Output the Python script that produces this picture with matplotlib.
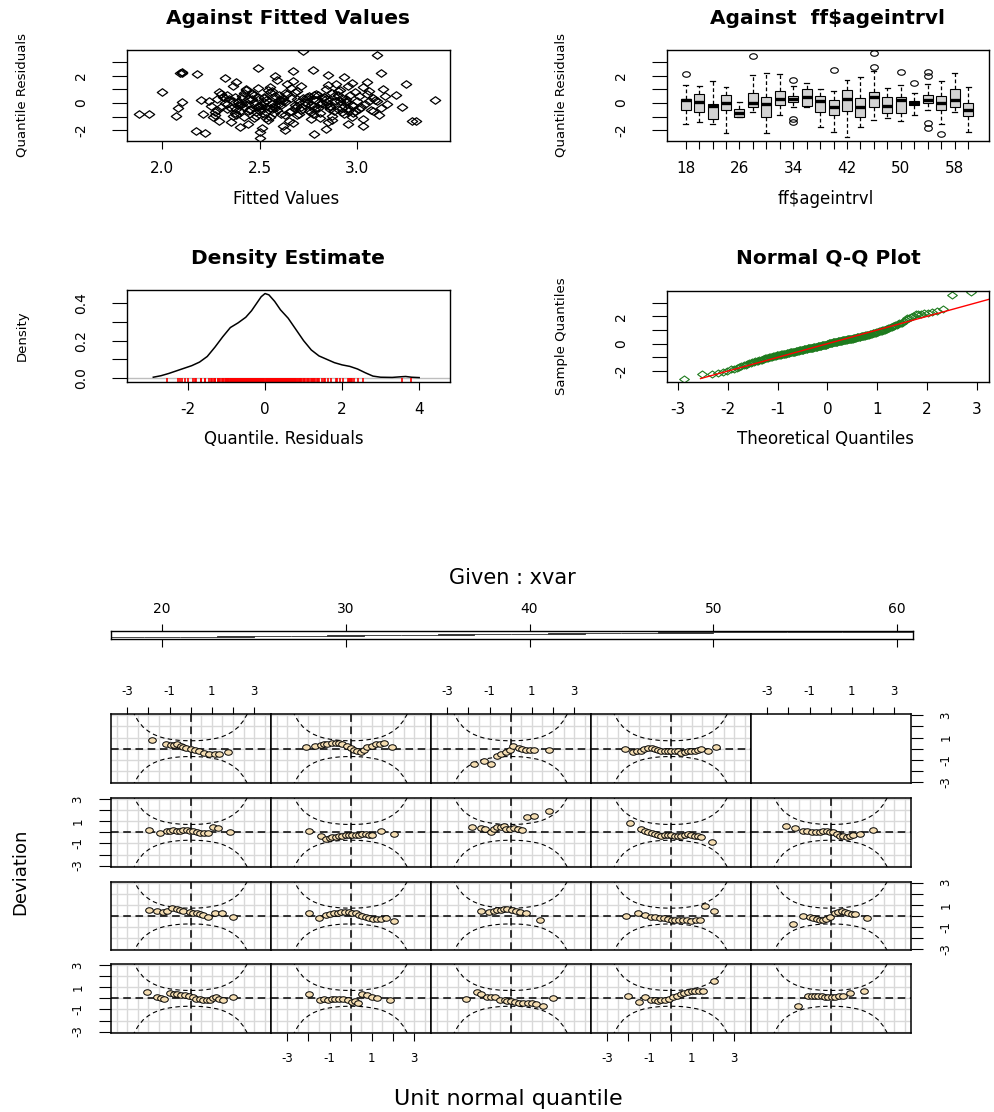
"""GAMLSS style residual diagnostics plus a worm plot, redrawn with matplotlib."""
from statistics import NormalDist

import matplotlib
matplotlib.use("Agg")
import matplotlib.pyplot as plt
from matplotlib.patches import Rectangle
from matplotlib.path import Path
from matplotlib.transforms import Affine2D

W, H = 995, 1112

# ---- residuals against fitted values ----
fitted_vals = [
    2.31, 2.55, 2.88, 2.47, 2.63, 2.95, 2.39, 2.71, 2.52, 2.84,
    2.27, 2.58, 2.91, 2.44, 2.67, 3.02, 2.36, 2.75, 2.49, 2.81,
    2.60, 2.33, 2.97, 2.53, 2.78, 2.42, 3.08, 2.65, 2.89, 2.29,
    2.56, 2.74, 2.45, 2.93, 2.38, 2.69, 3.05, 2.51, 2.83, 2.62,
    2.24, 2.48, 2.86, 2.59, 2.77, 2.41, 3.11, 2.66, 2.99, 2.35,
    2.54, 2.80, 2.46, 2.92, 2.28, 2.70, 3.03, 2.57, 2.85, 2.43,
    2.61, 2.37, 2.94, 2.50, 2.73, 3.14, 2.32, 2.87, 2.64, 2.45,
    2.79, 2.52, 2.98, 2.26, 2.68, 2.90, 2.40, 3.07, 2.58, 2.82,
    2.34, 2.63, 2.96, 2.49, 2.76, 2.30, 3.00, 2.55, 2.88, 2.44,
    2.72, 2.50, 2.84, 2.39, 2.93, 2.61, 3.09, 2.46, 2.80, 2.67,
    2.25, 2.57, 2.91, 2.42, 2.74, 3.04, 2.36, 2.69, 2.53, 2.87,
    2.48, 2.78, 2.33, 2.95, 2.60, 2.41, 3.12, 2.65, 2.89, 2.54,
    2.29, 2.71, 2.97, 2.51, 2.83, 2.38, 3.06, 2.62, 2.45, 2.76,
    2.56, 2.92, 2.35, 2.68, 2.49, 2.81, 3.01, 2.43, 2.73, 2.59,
    2.27, 2.64, 2.86, 2.52, 2.97, 2.40, 2.79, 3.15, 2.55, 2.90,
    2.47, 2.70, 2.32, 2.84, 2.58, 3.03, 2.37, 2.66, 2.94, 2.50,
    2.76, 2.42, 2.99, 2.61, 2.28, 2.85, 2.53, 3.10, 2.69, 2.44,
    2.10, 2.10, 2.09, 2.18, 2.49, 2.67, 2.77, 2.85, 3.12, 2.72,
    3.10, 3.05, 3.25, 3.40, 1.88, 1.93, 2.00, 2.08, 2.07, 2.10,
    2.20, 2.21, 2.17, 2.22, 2.40, 2.50, 2.50, 2.78, 2.84, 3.28,
    2.32, 2.58, 2.93, 3.13, 3.20, 3.23, 3.30, 2.95, 2.63, 3.03,
    2.36, 2.44, 2.52, 2.58, 2.63, 2.71, 2.78, 2.86, 2.92, 2.98,
    2.33, 2.41, 2.49, 2.55, 2.66, 2.74, 2.81, 2.88, 2.95, 3.06,
    2.30, 2.39, 2.47, 2.56, 2.62, 2.69, 2.77, 2.84, 2.90, 3.01,
    2.38, 2.46, 2.53, 2.60, 2.68, 2.75, 2.82, 2.87, 2.94, 3.08,
]
quant_resid = [
    0.42, -0.37, 0.15, -1.12, 0.71, -0.58, 0.08, 1.24, -0.81, -0.12,
    -0.65, 0.33, 0.92, 0.27, -1.45, -0.31, -0.92, 0.54, 1.08, -0.74,
    -0.05, 0.61, -1.02, 0.19, -0.46, -0.28, 0.37, -0.69, 1.36, -1.31,
    0.88, 0.02, -0.54, -0.21, 1.52, -0.88, 0.64, -0.16, 0.45, -1.67,
    0.12, -0.95, -0.43, 1.71, 0.28, -0.07, -0.85, 0.39, 0.81, -0.33,
    -1.23, 0.56, 0.74, -0.64, -0.48, 0.05, 1.15, -0.26, -1.38, 0.97,
    0.22, -0.76, 0.31, -0.59, -0.14, 0.48, 0.35, -0.97, 1.41, -0.42,
    0.67, 0.10, -0.24, -1.05, -0.36, 0.86, -0.18, -0.52, 0.51, -0.03,
    0.26, -0.91, 0.59, 0.43, -1.19, -0.27, 0.14, 1.18, -0.61, -1.56,
    0.34, -0.45, 1.02, 0.06, -0.83, -0.11, 0.25, 0.69, -0.39, 1.63,
    -0.21, -0.72, 0.18, -0.99, 0.47, -0.08, 1.27, 0.32, -0.31, 0.76,
    -0.63, -0.23, -0.10, 1.22, 0.58, 0.37, -0.40, -1.29, 0.12, 0.93,
    0.78, -0.53, -0.17, -1.82, 0.41, -0.44, 0.91, 0.13, 0.24, -0.66,
    -0.09, -0.35, -1.41, 0.83, -0.19, -1.08, 0.52, 1.04, 0.09, -0.50,
    -0.88, 0.63, -0.29, 0.36, 1.48, -0.60, 0.20, -0.07, -1.01, -0.46,
    0.55, -0.77, -0.02, 0.29, -0.35, -1.16, 0.46, 1.11, 0.04, -0.25,
    -0.13, 0.73, -0.55, -0.84, 0.30, 1.29, -0.68, 0.16, -0.20, -0.04,
    2.25, 2.18, 2.22, 2.15, 2.55, 2.32, 2.42, 2.03, 2.21, 3.78,
    3.55, 1.55, 1.37, 0.20, -0.78, -0.78, 0.78, -0.35, -0.95, 0.10,
    0.20, -0.83, -2.08, -2.20, -1.78, -2.55, -2.15, -2.25, -1.87, -1.33,
    1.85, 1.95, 1.88, 1.00, 0.60, -0.30, -1.30, -1.55, -2.00, -1.65,
    0.18, -0.62, 0.44, -0.15, 0.05, -0.32, 0.61, -0.22, 0.35, -0.71,
    -0.41, 0.52, -0.28, 0.79, -0.55, 0.27, -0.09, 0.49, -0.36, 0.11,
    0.65, -0.18, 0.03, -0.47, 0.38, 0.91, -0.78, 0.07, 0.58, -0.44,
    -0.86, 0.29, -1.09, 0.21, -0.13, -0.57, 0.33, -1.22, 0.17, -0.60,
]

# ---- boxplots of residuals by age interval ----
age_groups = [18, 20, 22, 24, 26, 28, 30, 32, 34, 36, 38,
              40, 42, 44, 46, 48, 50, 52, 54, 56, 58, 60]
box_whislo = [-1.54, -1.41, -1.54, -2.20, -1.05, -0.66, -2.20, -0.88, -0.32, -0.32, -1.73,
              -2.12, -2.46, -1.78, -1.24, -1.07, -1.29, -0.88, -0.51, -1.54, -0.63, -2.10]
box_q1 = [-0.51, -0.66, -1.15, -0.51, -1.05, -0.32, -1.00, -0.15, 0.10, -0.22, -0.63,
          -0.88, -0.56, -1.00, -0.27, -0.76, -0.76, -0.17, -0.02, -0.51, -0.27, -0.95]
box_med = [0.22, 0.10, -0.22, -0.02, -0.76, -0.02, -0.10, 0.27, 0.27, 0.46, 0.17,
           -0.32, 0.29, -0.27, 0.41, -0.22, 0.22, 0.02, 0.22, -0.02, 0.22, -0.51]
box_q3 = [0.29, 0.66, -0.10, 0.59, -0.44, 0.71, 0.41, 0.90, 0.54, 1.00, 0.51,
          0.22, 0.95, 0.34, 0.83, 0.46, 0.41, 0.17, 0.59, 0.51, 1.00, -0.02]
box_whishi = [1.32, 1.24, 1.63, 1.20, 0.07, 2.02, 2.17, 2.12, 1.24, 1.49, 1.00,
              0.88, 1.68, 1.93, 2.34, 1.10, 1.32, 0.71, 1.39, 1.63, 2.22, 1.20]
box_fliers = [[2.15], [], [], [], [], [3.46], [], [], [1.66, -1.15, -1.39], [], [],
              [2.41], [], [], [3.68, 2.63], [], [2.29], [1.44], [2.29, 1.98, -1.49, -1.80],
              [-2.29], [], []]

# ---- kernel density estimate of the residuals ----
dens_x = [-2.9, -2.7, -2.5, -2.3, -2.1, -1.9, -1.7, -1.5, -1.3, -1.1, -0.9, -0.7, -0.5,
          -0.35, -0.2, -0.1, 0.0, 0.1, 0.25, 0.4, 0.6, 0.8, 1.0, 1.2, 1.4, 1.6, 1.8,
          2.0, 2.2, 2.4, 2.6, 2.8, 3.0, 3.3, 3.5, 3.65, 3.8, 4.0]
dens_y = [0.004, 0.012, 0.024, 0.038, 0.052, 0.066, 0.085, 0.115, 0.165, 0.22, 0.27,
          0.295, 0.325, 0.36, 0.405, 0.435, 0.452, 0.445, 0.41, 0.365, 0.32, 0.26, 0.20,
          0.15, 0.118, 0.10, 0.082, 0.07, 0.062, 0.048, 0.028, 0.01, 0.004, 0.003,
          0.006, 0.008, 0.004, 0.002]

# ---- given panel: age intervals of the 19 worm panels ----
given_lo = [17, 19, 21, 23, 25, 27, 29, 31, 33, 35, 37, 39, 41, 43, 45, 47, 50, 54, 57]
given_hi = [19, 21, 23, 25, 27, 29, 31, 33, 35, 37, 39, 41, 43, 45, 47, 50, 54, 57, 61]
given_ticks = [20, 30, 40, 50, 60]

# ---- worm plot points, panel 1 (bottom left) .. panel 19 ----
worm_z = [
    [-2.05, -1.61, -1.4, -1.26, -0.98, -0.8, -0.63, -0.45, -0.27, -0.06, 0.1, 0.25, 0.42,
     0.6, 0.75, 0.92, 1.05, 1.2, 1.35, 1.52, 1.99],
    [-1.97, -1.45, -1.25, -1.06, -0.9, -0.74, -0.55, -0.35, -0.15, 0.05, 0.2, 0.36, 0.52,
     0.76, 1.0, 1.23, 1.86],
    [-2.12, -1.61, -1.4, -1.14, -0.95, -0.74, -0.51, -0.27, -0.19, 0.0, 0.21, 0.4, 0.6,
     0.8, 0.99, 1.2, 1.52, 1.99],
    [-2.02, -1.52, -1.23, -0.92, -0.75, -0.6, -0.45, -0.28, -0.1, 0.11, 0.3, 0.51, 0.65,
     0.82, 1.0, 1.14, 1.35, 1.53, 2.05],
    [-1.53, -1.06, -0.9, -0.74, -0.6, -0.43, -0.27, -0.11, 0.05, 0.21, 0.4, 0.6, 0.92, 1.55],
    [-1.97, -1.61, -1.3, -1.1, -0.9, -0.66, -0.5, -0.35, -0.03, 0.12, 0.28, 0.45, 0.6,
     0.84, 1.15, 1.47, 1.99],
    [-1.97, -1.5, -1.18, -0.98, -0.79, -0.6, -0.47, -0.25, -0.08, 0.08, 0.24, 0.4, 0.55,
     0.72, 0.87, 1.05, 1.26, 1.45, 1.66, 2.05],
    [-1.42, -1.03, -0.8, -0.63, -0.47, -0.32, -0.16, 0.05, 0.24, 0.45, 0.71, 1.39],
    [-2.1, -1.55, -1.23, -0.92, -0.72, -0.52, -0.3, -0.13, 0.05, 0.19, 0.4, 0.58, 0.78,
     0.98, 1.2, 1.37, 1.64, 2.05],
    [-1.8, -1.3, -0.98, -0.82, -0.66, -0.5, -0.35, -0.2, -0.03, 0.21, 0.36, 0.52, 0.68,
     0.84, 1.0, 1.15, 1.71],
    [-1.97, -1.45, -1.14, -0.98, -0.82, -0.66, -0.5, -0.35, -0.19, -0.03, 0.13, 0.3, 0.44,
     0.64, 0.84, 1.07, 1.31, 1.86],
    [-1.97, -1.42, -1.18, -1.0, -0.87, -0.7, -0.55, -0.4, -0.24, -0.08, 0.08, 0.24, 0.39,
     0.55, 0.71, 0.87, 1.03, 1.42, 2.05],
    [-1.83, -1.42, -1.2, -0.95, -0.8, -0.63, -0.47, -0.32, -0.24, -0.05, 0.16, 0.35, 0.55,
     0.79, 1.1, 1.82],
    [-1.94, -1.39, -1.2, -1.07, -0.9, -0.76, -0.6, -0.44, -0.28, -0.13, 0.03, 0.19, 0.35,
     0.51, 0.67, 0.82, 0.98, 1.14, 1.3, 1.45, 1.93],
    [-2.12, -1.69, -1.3, -1.1, -0.9, -0.7, -0.51, -0.35, -0.19, -0.03, 0.13, 0.29, 0.44,
     0.6, 0.76, 0.92, 1.07, 1.39, 1.99],
    [-1.82, -1.18, -0.95, -0.8, -0.66, -0.47, -0.35, -0.24, 0.0, 0.19, 0.39, 0.63, 0.87,
     1.14, 1.34, 1.74],
    [-2.09, -1.71, -1.42, -1.25, -1.1, -0.9, -0.71, -0.55, -0.39, -0.16, 0.0, 0.16, 0.32,
     0.47, 0.63, 0.79, 1.0, 1.18, 1.38, 1.58, 1.97],
    [-1.74, -1.26, -0.95, -0.63, -0.47, -0.24, -0.05, 0.13, 0.39, 0.55, 0.71, 0.9, 1.1, 1.82],
    [-2.18, -1.78, -1.6, -1.42, -1.25, -1.07, -0.9, -0.76, -0.6, -0.44, -0.28, -0.13, 0.03,
     0.19, 0.35, 0.51, 0.67, 0.82, 0.98, 1.14, 1.3, 1.45, 1.77, 2.16],
]
worm_dev = [
    [0.55, 0.15, 0.05, -0.06, 0.45, 0.42, 0.39, 0.33, 0.3, 0.24, 0.12, -0.06, -0.1,
     -0.12, -0.15, -0.12, 0.0, 0.09, -0.05, -0.12, 0.15],
    [0.39, -0.12, -0.1, -0.12, -0.06, -0.06, -0.03, -0.06, -0.15, -0.3, -0.25, -0.42, 0.39,
     0.33, 0.15, 0.0, -0.12],
    [-0.06, 0.55, 0.4, 0.15, 0.12, 0.09, -0.12, -0.12, -0.21, -0.25, -0.3, -0.38, -0.42,
     -0.45, -0.42, -0.55, -0.67, 0.03],
    [0.24, -0.3, 0.09, -0.12, -0.15, -0.21, -0.18, -0.12, -0.05, 0.09, 0.25, 0.39, 0.5,
     0.61, 0.65, 0.7, 0.68, 0.7, 1.55],
    [-0.67, 0.24, 0.24, 0.24, 0.2, 0.24, 0.15, 0.15, 0.1, 0.09, 0.18, 0.24, 0.48, 0.7],
    [0.55, 0.45, 0.39, 0.5, 0.76, 0.64, 0.55, 0.45, 0.39, 0.3, 0.24, 0.15, 0.09,
     -0.06, 0.24, 0.24, -0.12],
    [0.3, -0.15, 0.09, 0.15, 0.24, 0.3, 0.39, 0.36, 0.33, 0.3, 0.24, 0.12, 0.0,
     -0.1, -0.21, -0.24, -0.27, -0.3, -0.21, -0.45],
    [0.45, 0.39, 0.45, 0.55, 0.55, 0.64, 0.64, 0.55, 0.45, 0.35, 0.24, -0.36],
    [0.0, 0.3, 0.09, -0.06, -0.1, -0.15, -0.2, -0.3, -0.32, -0.36, -0.36, -0.36, -0.4,
     -0.45, -0.4, -0.36, 0.94, 0.48],
    [-0.76, 0.0, -0.06, -0.15, -0.3, -0.33, -0.36, -0.25, -0.06, 0.24, 0.35, 0.48, 0.4,
     0.3, 0.2, 0.15, -0.21],
    [0.24, -0.09, 0.09, 0.12, 0.24, 0.15, 0.09, 0.2, 0.24, 0.15, 0.09, 0.0, -0.06,
     -0.1, -0.06, 0.45, 0.36, 0.0],
    [0.15, -0.36, -0.6, -0.5, -0.45, -0.4, -0.36, -0.3, -0.24, -0.24, -0.24, -0.2, -0.21,
     -0.15, -0.15, -0.2, -0.24, 0.15, -0.15],
    [0.45, 0.36, 0.3, 0.0, 0.3, 0.45, 0.45, 0.55, 0.3, 0.3, 0.36, 0.3, 0.21,
     1.42, 1.45, 1.91],
    [0.82, 0.3, 0.15, 0.0, -0.06, -0.15, -0.2, -0.3, -0.25, -0.24, -0.27, -0.3, -0.3,
     -0.3, -0.25, -0.15, -0.24, -0.3, -0.36, -0.45, -0.85],
    [0.55, 0.36, 0.09, 0.1, 0.06, 0.0, 0.0, 0.1, 0.15, 0.05, 0.0, -0.15, -0.3,
     -0.35, -0.39, -0.3, -0.24, -0.15, 0.24],
    [0.76, 0.45, 0.3, 0.35, 0.39, 0.21, 0.15, 0.06, 0.0, -0.09, -0.24, -0.39, -0.52,
     -0.52, -0.45, -0.3],
    [0.15, 0.21, 0.36, 0.4, 0.45, 0.48, 0.52, 0.5, 0.39, 0.21, 0.1, -0.09, -0.2,
     -0.3, -0.1, 0.15, 0.25, 0.39, 0.45, 0.52, 0.15],
    [-1.36, -1.12, -1.36, -0.7, -0.5, -0.3, -0.1, 0.2, 0.06, -0.05, -0.1, -0.12, -0.15, -0.1],
    [0.0, -0.33, -0.2, -0.24, 0.0, 0.06, 0.05, 0.0, -0.1, -0.18, -0.2, -0.18, -0.2,
     -0.18, -0.25, -0.39, -0.3, -0.24, -0.2, -0.18, -0.1, 0.0, -0.18, 0.12],
]

# 95% band half width of the worm plot (same for all panels)
band_z = [-3.0, -2.75, -2.5, -2.25, -2.0, -1.75, -1.5, -1.25, -1.0, -0.75, -0.5, -0.25, 0.0,
          0.25, 0.5, 0.75, 1.0, 1.25, 1.5, 1.75, 2.0, 2.25, 2.5, 2.75, 3.0]
band_hw = [4.69, 3.39, 2.54, 1.95, 1.57, 1.29, 1.09, 0.95, 0.86, 0.79, 0.74, 0.72, 0.71,
           0.72, 0.74, 0.79, 0.86, 0.95, 1.09, 1.29, 1.57, 1.95, 2.54, 3.39, 4.69]
grid_x = [-3.5, -3.0, -2.5, -2.0, -1.5, -1.0, -0.5, 0.0, 0.5, 1.0, 1.5, 2.0, 2.5, 3.0, 3.5]
grid_y = [-3, -2, -1, 0, 1, 2, 3]

# R's device was stretched sideways, so markers are a little wider than tall
WIDE_DIAMOND = Path([(-1, 0), (0, 0.72), (1, 0), (0, -0.72), (-1, 0)],
                    [Path.MOVETO, Path.LINETO, Path.LINETO, Path.LINETO, Path.CLOSEPOLY])
WIDE_CIRCLE = Path.unit_circle().transformed(Affine2D().scale(1.0, 0.72))


def px_axes(fig, left, top, right, bottom):
    return fig.add_axes([left / W, 1 - bottom / H, (right - left) / W, (bottom - top) / H])


def px_text(fig, x, y, s, **kw):
    fig.text(x / W, 1 - y / H, s, ha="center", va="center", **kw)


def style_r_axes(ax, yticks, ylabels):
    ax.set_yticks(yticks, ylabels)
    ax.tick_params(axis="x", length=5.8, width=0.8, pad=8.5, labelsize=11)
    ax.tick_params(axis="y", length=10.8, width=0.8, pad=17, labelsize=10,
                   labelrotation=90)
    for lab in ax.get_yticklabels():
        lab.set_verticalalignment("center")
    for sp in ax.spines.values():
        sp.set_linewidth(1.0)


def draw_fitted(fig):
    ax = px_axes(fig, 126.7, 50, 450, 140.7)
    ax.plot(fitted_vals, quant_resid, ls="none", marker=WIDE_DIAMOND, ms=7.5,
            mfc="none", mec="black", mew=0.9)
    ax.set_xlim(1.817, 3.475)
    ax.set_ylim(-2.76, 3.88)
    ax.set_xticks([2.0, 2.5, 3.0], ["2.0", "2.5", "3.0"])
    style_r_axes(ax, [-2, -1, 0, 1, 2, 3], ["-2", "", "0", "", "2", ""])
    px_text(fig, 288, 18, "Against Fitted Values", fontsize=14.5, fontweight="bold")
    px_text(fig, 286, 199, "Fitted Values", fontsize=12)
    px_text(fig, 22, 95, "Quantile Residuals", fontsize=9.5, rotation=90)


def draw_box(fig):
    ax = px_axes(fig, 666.7, 50, 989, 140.7)
    stats = []
    for i in range(len(age_groups)):
        stats.append({"med": box_med[i], "q1": box_q1[i], "q3": box_q3[i],
                      "whislo": box_whislo[i], "whishi": box_whishi[i],
                      "fliers": box_fliers[i]})
    pos = list(range(1, len(age_groups) + 1))
    ax.bxp(stats, positions=pos, widths=0.75, capwidths=0.37, patch_artist=True,
           boxprops=dict(facecolor="#D3D3D3", edgecolor="black", linewidth=0.8),
           medianprops=dict(color="black", linewidth=2.4),
           whiskerprops=dict(color="black", linestyle=(0, (3, 2)), linewidth=0.9),
           capprops=dict(color="black", linewidth=0.9),
           flierprops=dict(marker=WIDE_CIRCLE, markersize=5.5, markerfacecolor="none",
                           markeredgecolor="black", markeredgewidth=0.8))
    ax.set_xlim(-0.41, 23.56)
    ax.set_ylim(-2.76, 3.88)
    labels = [str(a) if (a - 18) % 8 == 0 else "" for a in age_groups]
    ax.set_xticks(pos, labels)
    style_r_axes(ax, [-2, -1, 0, 1, 2, 3], ["-2", "", "0", "", "2", ""])
    px_text(fig, 828, 18, "Against  ff$ageintrvl", fontsize=14.5, fontweight="bold")
    px_text(fig, 826, 199, "ff$ageintrvl", fontsize=12)
    px_text(fig, 561, 95, "Quantile Residuals", fontsize=9.5, rotation=90)


def draw_density(fig):
    ax = px_axes(fig, 126.7, 290, 450, 381.7)
    ax.axhline(0, color="#BEBEBE", lw=1.0, zorder=1)
    ax.plot(dens_x, dens_y, color="black", lw=1.1, zorder=3)
    ax.vlines(quant_resid, 0, 0.045, transform=ax.get_xaxis_transform(),
              color="red", lw=1.2, zorder=2)
    ax.set_xlim(-3.59, 4.8)
    ax.set_ylim(-0.02, 0.471)
    ax.set_xticks([-2, 0, 2, 4], ["-2", "0", "2", "4"])
    style_r_axes(ax, [0, 0.1, 0.2, 0.3, 0.4], ["0.0", "", "0.2", "", "0.4"])
    px_text(fig, 288, 258, "Density Estimate", fontsize=14.5, fontweight="bold")
    px_text(fig, 284, 439, "Quantile. Residuals", fontsize=12)
    px_text(fig, 22, 336, "Density", fontsize=9.5, rotation=90)


def draw_qq(fig):
    ax = px_axes(fig, 666.7, 290.7, 989, 381.7)
    sample = sorted(quant_resid)
    n = len(sample)
    nd = NormalDist()
    theo = [nd.inv_cdf((i + 0.5) / n) for i in range(n)]
    ax.plot(theo, sample, ls="none", marker=WIDE_DIAMOND, ms=7, mfc="none",
            mec="#1E7B1E", mew=0.8)
    ax.plot([sample[0], sample[-1]], [sample[0], sample[-1]], color="red", lw=1.0)
    ax.set_xlim(-3.23, 3.25)
    ax.set_ylim(-2.78, 3.88)
    ax.set_xticks([-3, -2, -1, 0, 1, 2, 3], ["-3", "-2", "-1", "0", "1", "2", "3"])
    style_r_axes(ax, [-2, -1, 0, 1, 2, 3], ["-2", "", "0", "", "2", ""])
    px_text(fig, 828, 258, "Normal Q-Q Plot", fontsize=14.5, fontweight="bold")
    px_text(fig, 826, 439, "Theoretical Quantiles", fontsize=12)
    px_text(fig, 561, 336, "Sample Quantiles", fontsize=9.5, rotation=90)


def draw_given_bar(fig):
    ax = px_axes(fig, 110.8, 631, 913.2, 639.3)
    for i, (lo, hi) in enumerate(zip(given_lo, given_hi)):
        ax.add_patch(Rectangle((lo, i), hi - lo, 1, facecolor="gray",
                               edgecolor="black", lw=0.5))
    ax.set_xlim(17.21, 60.88)
    ax.set_ylim(-5.85, 20.6)
    ax.set_yticks([])
    ax.set_xticks(given_ticks, [str(t) for t in given_ticks])
    ax.tick_params(axis="x", top=True, labeltop=True, bottom=True, labelbottom=False,
                   length=5.4, width=0.8, pad=5.5, labelsize=10)
    for sp in ax.spines.values():
        sp.set_linewidth(1.0)
    px_text(fig, 512, 578, "Given : xvar", fontsize=15)


def draw_worms(fig):
    col_left = [110.7, 270.7, 430.7, 590.7, 750.7, 910.7]
    row_top = [714.3, 798.0, 881.7, 964.0]
    side_ticks = [-3, -2, -1, 0, 1, 2, 3]
    side_labels = ["-3", "", "-1", "", "1", "", "3"]
    for row in range(4):
        for col in range(5):
            ax = px_axes(fig, col_left[col], row_top[row], col_left[col + 1],
                         row_top[row] + 68.7)
            ax.set_xlim(-3.78, 3.78)
            ax.set_ylim(-3.1, 3.1)
            ax.set_xticks([])
            ax.set_yticks([])
            for sp in ax.spines.values():
                sp.set_linewidth(1.1)
            if row == 0 and col in (0, 2, 4):
                ax.set_xticks(side_ticks, side_labels)
                ax.tick_params(axis="x", top=True, labeltop=True, bottom=False,
                               labelbottom=False, length=5.4, width=0.8, pad=6.5,
                               labelsize=8.5)
            if row == 3 and col in (1, 3):
                ax.set_xticks(side_ticks, side_labels)
                ax.tick_params(axis="x", length=5.4, width=0.8, pad=8.5, labelsize=8.5)
            if col == 0 and row in (1, 3):
                ax.set_yticks(side_ticks, side_labels)
                ax.tick_params(axis="y", length=8.6, width=0.8, pad=10.5,
                               labelsize=8.5, labelrotation=90)
            if col == 4 and row in (0, 2):
                ax.set_yticks(side_ticks, side_labels)
                ax.tick_params(axis="y", left=False, labelleft=False, right=True,
                               labelright=True, length=8.6, width=0.8, pad=12,
                               labelsize=8.5, labelrotation=90)
            for tick in ax.yaxis.get_major_ticks():
                tick.label1.set_verticalalignment("center")
                tick.label2.set_verticalalignment("center")

            k = (3 - row) * 5 + col
            if k >= len(worm_z):
                continue
            for gx in grid_x:
                ax.axvline(gx, color="#D9D9D9", lw=1.0, zorder=0)
            for gy in grid_y:
                ax.axhline(gy, color="#D9D9D9", lw=1.0, zorder=0)
            ax.plot(band_z, band_hw, color="black", lw=0.8, ls=(0, (4, 3)), zorder=2)
            ax.plot(band_z, [-h for h in band_hw], color="black", lw=0.8,
                    ls=(0, (4, 3)), zorder=2)
            ax.axhline(0, color="black", lw=1.1, ls=(0, (5, 3)), zorder=2)
            ax.axvline(0, color="black", lw=1.1, ls=(0, (5, 3)), zorder=2)
            ax.plot(worm_z[k], worm_dev[k], ls="none", marker=WIDE_CIRCLE, ms=5.5,
                    mfc="#F5DEB3", mec="black", mew=0.7, zorder=3)

    px_text(fig, 20, 872, "Deviation", fontsize=13, rotation=90)
    px_text(fig, 508, 1099, "Unit normal quantile", fontsize=16)


def main():
    fig = plt.figure(figsize=(W / 100, H / 100), dpi=100)
    draw_fitted(fig)
    draw_box(fig)
    draw_density(fig)
    draw_qq(fig)
    draw_given_bar(fig)
    draw_worms(fig)
    fig.savefig("out.png", dpi=100)


if __name__ == "__main__":
    main()
